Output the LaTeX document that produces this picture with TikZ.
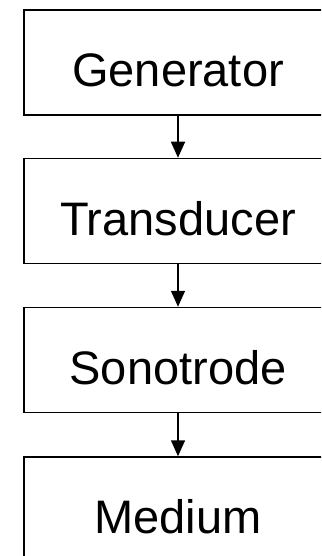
\documentclass[tikz,border=0pt]{standalone}
\usepackage{fontspec}
\setmainfont{Liberation Sans}
\usetikzlibrary{arrows.meta}
\begin{document}
\begin{tikzpicture}[x=1pt,y=-1pt,
  blockbox/.style={draw=black, line width=1.5pt, minimum width=308pt, minimum height=105pt, inner sep=0pt, text height=48pt, text depth=0pt, font=\fontsize{47}{52}\selectfont, text=black},
  flow/.style={draw=black, line width=1.5pt, -{Triangle[width=14pt,length=16pt]}}]
\useasboundingbox (0,0) rectangle (321,556);
\clip (0,0) rectangle (321,556);
\fill[white] (0,0) rectangle (321,556);
\node[blockbox] (gen) at (178,62.5) {Generator};
\node[blockbox] (tra) at (178,211) {Transducer};
\node[blockbox] (son) at (178,360) {Sonotrode};
\node[blockbox] (med) at (178,509.5) {Medium};
\draw[flow] (gen.south) -- (tra.north);
\draw[flow] (tra.south) -- (son.north);
\draw[flow] (son.south) -- (med.north);
\end{tikzpicture}
\end{document}
